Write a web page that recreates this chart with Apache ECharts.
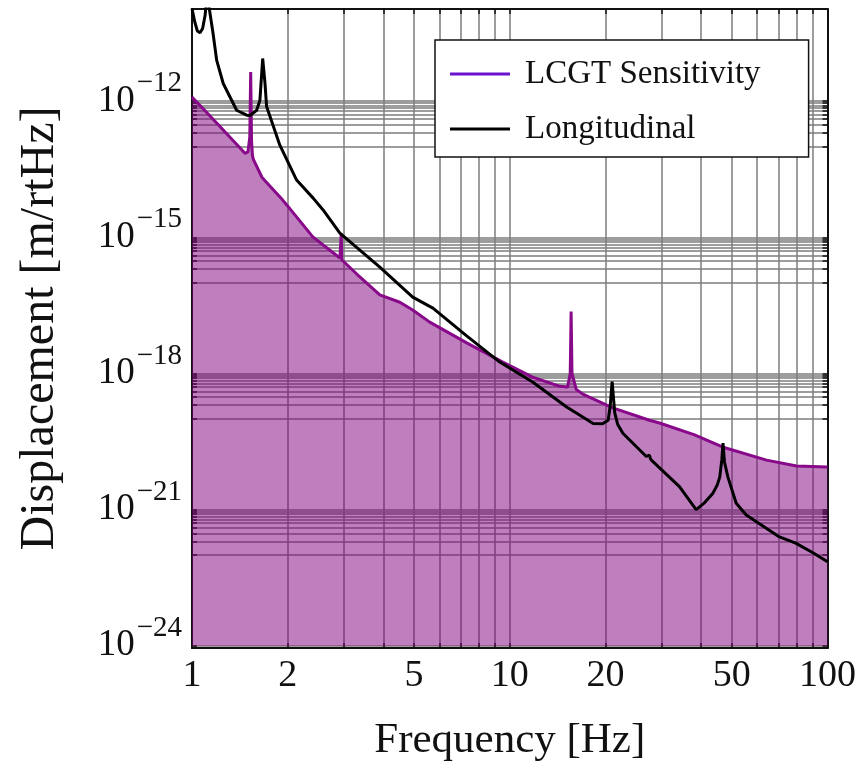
<!DOCTYPE html>
<html>
<head>
<meta charset="utf-8">
<script src="https://cdn.jsdelivr.net/npm/echarts@6/dist/echarts.min.js"></script>
<style>
html, body { margin: 0; padding: 0; background: #fff; }
#chart { width: 859px; height: 769px; }
</style>
</head>
<body>
<div id="chart"></div>
<script>
// LCGT sensitivity
const sensFreq = [1.00, 1.20, 1.468, 1.50, 1.52, 1.53, 1.54, 1.55, 1.56, 1.66, 1.70, 1.93, 1.99, 2.40, 2.92, 2.94, 2.95, 2.96, 3.30, 3.90, 4.51, 4.95, 5.60, 7.32, 9.51, 11.8, 14.4, 15.2, 15.5, 15.6, 15.7, 16.2, 17.0, 17.8, 21.1, 27.5, 29.6, 38.0, 46.7, 64.3, 79.9, 100]
const sensDisp = [1.23e-12, 3.2e-13, 7.1e-14, 7.6e-14, 1.6e-13, 4.4e-12, 1.26e-13, 6.3e-14, 5.2e-14, 2.1e-14, 1.74e-14, 6.6e-15, 5.1e-15, 1.02e-15, 3.5e-16, 3.4e-16, 1.23e-15, 3.2e-16, 1.55e-16, 5.4e-17, 3.7e-17, 2.5e-17, 1.35e-17, 4.7e-18, 1.78e-18, 8.3e-19, 5.2e-19, 5.0e-19, 1.0e-18, 2.3e-17, 1.0e-18, 4.4e-19, 3.5e-19, 3.0e-19, 1.74e-19, 9.3e-20, 8.1e-20, 4.5e-20, 2.4e-20, 1.23e-20, 9.1e-21, 8.7e-21]

// Longitudinal
const longFreq = [1.00, 1.02, 1.04, 1.06, 1.08, 1.10, 1.115, 1.13, 1.164, 1.196, 1.254, 1.382, 1.486, 1.52, 1.598, 1.636, 1.669, 1.697, 1.717, 1.89, 2.134, 2.41, 2.586, 2.92, 3.90, 4.95, 5.73, 7.30, 9.30, 11.8, 15.1, 18.3, 19.6, 20.4, 20.7, 21.0, 21.4, 21.85, 22.7, 26.9, 27.5, 27.8, 31.8, 34.2, 38.6, 41.0, 43.6, 45.0, 45.8, 46.5, 46.9, 47.4, 48.6, 51.6, 55.5, 70.6, 79.4, 90, 100]
const longDisp = [1.1e-10, 5.6e-11, 3.5e-11, 3.2e-11, 4.0e-11, 7.9e-11, 2.5e-10, 1.26e-10, 3.2e-11, 7.9e-12, 2.45e-12, 6.3e-13, 4.9e-13, 4.8e-13, 6.3e-13, 1.05e-12, 8.7e-12, 2.5e-12, 7.6e-13, 1.07e-13, 1.82e-14, 7.2e-15, 4.0e-15, 1.23e-15, 2.2e-16, 4.8e-17, 2.75e-17, 6.8e-18, 1.78e-18, 6.5e-19, 1.82e-19, 7.9e-20, 7.8e-20, 9.3e-20, 1.86e-19, 6.6e-19, 1.35e-19, 7.6e-20, 4.8e-20, 1.48e-20, 1.58e-20, 1.26e-20, 5.2e-21, 3.2e-21, 1.0e-21, 1.41e-21, 2.3e-21, 3.5e-21, 5.2e-21, 1.26e-20, 2.9e-20, 1.12e-20, 5.2e-21, 1.38e-21, 7.6e-22, 2.5e-22, 1.82e-22, 1.12e-22, 7.1e-23]

// axis ticks
const freqGrid = [1, 2, 3, 4, 5, 6, 7, 8, 9, 10, 20, 30, 40, 50, 60, 70, 80, 90, 100]
const freqLabels = [1, 2, 5, 10, 20, 50, 100]
const dispDecades = [-24, -21, -18, -15, -12]
const mantissas = [1, 2, 3, 4, 5, 6, 7, 8, 9, 10]

const FONT = '"Liberation Serif", "Times New Roman", serif'
const TEXT = '#111'
const Y_MIN = -24.05
const Y_MAX = -9.97

const toLog = (fs, ds) => fs.map((f, i) => [Math.log10(f), Math.log10(ds[i])])

const xTickVals = freqGrid.map(f => Math.log10(f))
const xLabelVals = freqLabels.map(f => Math.log10(f))
const yTickVals = []
dispDecades.forEach(n => {
    mantissas.forEach(k => {
        const v = n - 1 + Math.log10(k)
        if (v >= Y_MIN && v <= Y_MAX) yTickVals.push(v)
    })
})

const chart = echarts.init(document.getElementById('chart'))

const frameLine = { show: true, onZero: false, lineStyle: { color: TEXT, width: 2 } }
const gridLine = { show: true, lineStyle: { color: '#7c7c7c', width: 1.5 } }

let option = {
    animation: false,
    backgroundColor: '#fff',
    grid: { left: 192, right: 31, top: 9, bottom: 121 },
    legend: {
        left: 435,
        top: 40,
        orient: 'vertical',
        backgroundColor: '#fff',
        borderColor: TEXT,
        borderWidth: 1.5,
        borderRadius: 0,
        padding: [14, 48, 8, 15],
        itemGap: 15,
        itemWidth: 60,
        itemHeight: 3,
        icon: 'rect',
        textStyle: { fontFamily: FONT, fontSize: 33, color: TEXT, lineHeight: 40, padding: [0, 0, 0, 10] },
        data: [
            { name: 'LCGT Sensitivity', itemStyle: { color: '#6a12d0' } },
            { name: 'Longitudinal', itemStyle: { color: '#000' } }
        ]
    },
    xAxis: [
        {
            type: 'value', min: 0, max: 2, position: 'bottom',
            axisLine: frameLine,
            axisTick: { show: true, inside: true, length: 5, customValues: xTickVals, lineStyle: { color: TEXT, width: 1.5 } },
            splitLine: gridLine,
            axisLabel: {
                customValues: xLabelVals,
                formatter: v => String(Math.round(Math.pow(10, v))),
                fontFamily: FONT, fontSize: 38, color: TEXT, margin: 9
            },
            name: 'Frequency [Hz]', nameLocation: 'middle', nameGap: 71,
            nameTextStyle: { fontFamily: FONT, fontSize: 43, color: TEXT }
        },
        {
            type: 'value', min: 0, max: 2, position: 'top',
            axisLine: frameLine,
            axisTick: { show: true, inside: true, length: 5, customValues: xTickVals, lineStyle: { color: TEXT, width: 1.5 } },
            splitLine: { show: false },
            axisLabel: { show: false }
        }
    ],
    yAxis: [
        {
            type: 'value', min: Y_MIN, max: Y_MAX, position: 'left',
            axisLine: frameLine,
            axisTick: { show: true, inside: true, length: 5, customValues: yTickVals, lineStyle: { color: TEXT, width: 1.5 } },
            splitLine: gridLine,
            axisLabel: {
                customValues: dispDecades,
                margin: 10,
                formatter: v => '{b|10}{s|\u2212' + Math.round(Math.abs(v)) + '}',
                rich: {
                    b: { fontFamily: FONT, fontSize: 37, color: TEXT, lineHeight: 64, verticalAlign: 'middle', padding: [0, 2, 0, 0] },
                    s: { fontFamily: FONT, fontSize: 29, color: TEXT, lineHeight: 28, verticalAlign: 'top' }
                }
            },
            name: 'Displacement [m/rtHz]', nameLocation: 'middle', nameGap: 128,
            nameTextStyle: { fontFamily: FONT, fontSize: 48, color: TEXT }
        },
        {
            type: 'value', min: Y_MIN, max: Y_MAX, position: 'right',
            axisLine: frameLine,
            axisTick: { show: true, inside: true, length: 5, customValues: yTickVals, lineStyle: { color: TEXT, width: 1.5 } },
            splitLine: { show: false },
            axisLabel: { show: false }
        }
    ],
    series: [
        {
            name: 'LCGT Sensitivity',
            type: 'line',
            data: toLog(sensFreq, sensDisp),
            symbol: 'none',
            z: 2,
            lineStyle: { color: '#880a8a', width: 3 },
            itemStyle: { color: '#880a8a' },
            areaStyle: { color: 'rgb(128,0,128)', opacity: 0.5, origin: -24 }
        },
        {
            name: 'Longitudinal',
            type: 'line',
            data: toLog(longFreq, longDisp),
            symbol: 'none',
            z: 3,
            lineStyle: { color: '#000', width: 3 },
            itemStyle: { color: '#000' }
        }
    ]
}
chart.setOption(option)
</script>
</body>
</html>
